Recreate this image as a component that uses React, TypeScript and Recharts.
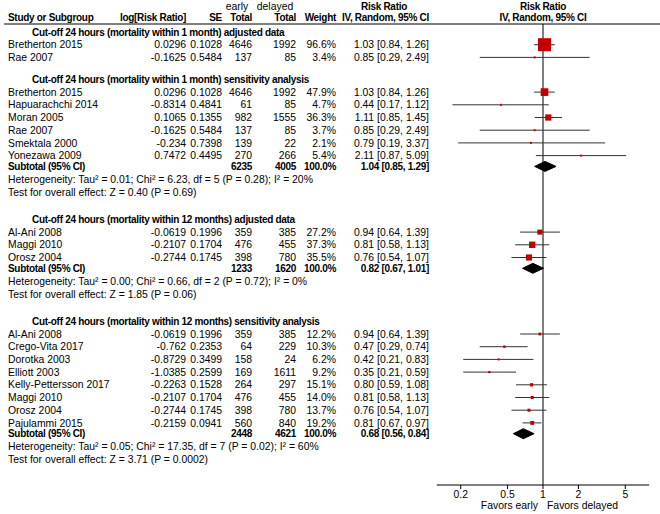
import { Area, ComposedChart, ReferenceLine, Scatter, XAxis, YAxis } from "recharts";

// name, log[RR], SE, early total, delayed total, weight %, RR, CI low, CI high
type Study = [string, number, number, number, number, number, number, number, number];
// early total, delayed total, RR, CI low, CI high
type Subtotal = [number, number, number, number, number];

const groupTitles = [
  "Cut-off 24 hours (mortality within 1 month) adjusted data",
  "Cut-off 24 hours (mortality within 1 month) sensitivity analysis",
  "Cut-off 24 hours (mortality within 12 months) adjusted data",
  "Cut-off 24 hours (mortality within 12 months) sensitivity analysis",
];

const adjusted1m: Study[] = [
  ["Bretherton 2015", 0.0296, 0.1028, 4646, 1992, 96.6, 1.03, 0.84, 1.26],
  ["Rae 2007", -0.1625, 0.5484, 137, 85, 3.4, 0.85, 0.29, 2.49],
];

const sensitivity1m: Study[] = [
  ["Bretherton 2015", 0.0296, 0.1028, 4646, 1992, 47.9, 1.03, 0.84, 1.26],
  ["Hapuarachchi 2014", -0.8314, 0.4841, 61, 85, 4.7, 0.44, 0.17, 1.12],
  ["Moran 2005", 0.1065, 0.1355, 982, 1555, 36.3, 1.11, 0.85, 1.45],
  ["Rae 2007", -0.1625, 0.5484, 137, 85, 3.7, 0.85, 0.29, 2.49],
  ["Smektala 2000", -0.234, 0.7398, 139, 22, 2.1, 0.79, 0.19, 3.37],
  ["Yonezawa 2009", 0.7472, 0.4495, 270, 266, 5.4, 2.11, 0.87, 5.09],
];

const adjusted12m: Study[] = [
  ["Al-Ani 2008", -0.0619, 0.1996, 359, 385, 27.2, 0.94, 0.64, 1.39],
  ["Maggi 2010", -0.2107, 0.1704, 476, 455, 37.3, 0.81, 0.58, 1.13],
  ["Orosz 2004", -0.2744, 0.1745, 398, 780, 35.5, 0.76, 0.54, 1.07],
];

const sensitivity12m: Study[] = [
  ["Al-Ani 2008", -0.0619, 0.1996, 359, 385, 12.2, 0.94, 0.64, 1.39],
  ["Crego-Vita 2017", -0.762, 0.2353, 64, 229, 10.3, 0.47, 0.29, 0.74],
  ["Dorotka 2003", -0.8729, 0.3499, 158, 24, 6.2, 0.42, 0.21, 0.83],
  ["Elliott 2003", -1.0385, 0.2599, 169, 1611, 9.2, 0.35, 0.21, 0.59],
  ["Kelly-Pettersson 2017", -0.2263, 0.1528, 264, 297, 15.1, 0.8, 0.59, 1.08],
  ["Maggi 2010", -0.2107, 0.1704, 476, 455, 14.0, 0.81, 0.58, 1.13],
  ["Orosz 2004", -0.2744, 0.1745, 398, 780, 13.7, 0.76, 0.54, 1.07],
  ["Pajulammi 2015", -0.2159, 0.0941, 560, 840, 19.2, 0.81, 0.67, 0.97],
];

const subtotals: (Subtotal | null)[] = [
  null,
  [6235, 4005, 1.04, 0.85, 1.29],
  [1233, 1620, 0.82, 0.67, 1.01],
  [2448, 4621, 0.68, 0.56, 0.84],
];

const heterogeneity = [
  "",
  "Heterogeneity: Tau\u00b2 = 0.01; Chi\u00b2 = 6.23, df = 5 (P = 0.28); I\u00b2 = 20%",
  "Heterogeneity: Tau\u00b2 = 0.00; Chi\u00b2 = 0.66, df = 2 (P = 0.72); I\u00b2 = 0%",
  "Heterogeneity: Tau\u00b2 = 0.05; Chi\u00b2 = 17.35, df = 7 (P = 0.02); I\u00b2 = 60%",
];

const overallEffect = [
  "",
  "Test for overall effect: Z = 0.40 (P = 0.69)",
  "Test for overall effect: Z = 1.85 (P = 0.06)",
  "Test for overall effect: Z = 3.71 (P = 0.0002)",
];

const rrTicks = [0.2, 0.5, 1, 2, 5];

const groups = [adjusted1m, sensitivity1m, adjusted12m, sensitivity12m];

// ---- layout (pixels) ----
const W = 660;
const H = 514;
const PLOT_TOP = 24;
const PLOT_BOTTOM = 485;
const PLOT_LEFT = 436.7;
const PLOT_RIGHT = 649.3;
const STEP = 12.7;
const FONT = "'Liberation Sans', Arial, sans-serif";
const FS = 10.4;

// left edge of names / right edges of the numeric columns
const COL = { name: 8, title: 32, logrr: 186, se: 222, early: 252, delayed: 296, weight: 336, ci: 429 };

type Row = { x: number; y: number; kind: "title" | "study" | "subtotal" | "note"; cells: string[] };

const rows: Row[] = [];
const boxes: { x: number; y: number; w: number }[] = [];
const cis: { lo: number; hi: number; y: number }[] = [];
const diamonds: { x: number; band: [number, number] }[][] = [];

const fmtCI = (rr: number, lo: number, hi: number) =>
  `${rr.toFixed(2)} [${lo.toFixed(2)}, ${hi.toFixed(2)}]`;

let pos = 8;
groups.forEach((studies, g) => {
  if (g > 0) pos += subtotals[g - 1] ? 27 : 22;
  rows.push({ x: 1, y: pos, kind: "title", cells: [groupTitles[g]] });
  studies.forEach((s) => {
    pos += STEP;
    rows.push({
      x: 1,
      y: pos,
      kind: "study",
      cells: [s[0], String(s[1]), String(s[2]), String(s[3]), String(s[4]), `${s[5].toFixed(1)}%`, fmtCI(s[6], s[7], s[8])],
    });
    boxes.push({ x: s[6], y: pos, w: s[5] });
    cis.push({ lo: s[7], hi: s[8], y: pos });
  });
  const sub = subtotals[g];
  if (sub) {
    pos += 10.8;
    rows.push({
      x: 1,
      y: pos,
      kind: "subtotal",
      cells: ["Subtotal (95% CI)", "", "", String(sub[0]), String(sub[1]), "100.0%", fmtCI(sub[2], sub[3], sub[4])],
    });
    diamonds.push([
      { x: sub[3], band: [pos, pos] },
      { x: sub[2], band: [pos - 5, pos + 5] },
      { x: sub[4], band: [pos, pos] },
    ]);
    pos += 13;
    rows.push({ x: 1, y: pos, kind: "note", cells: [heterogeneity[g]] });
    pos += 13;
    rows.push({ x: 1, y: pos, kind: "note", cells: [overallEffect[g]] });
  }
});

const txt = { fontSize: FS, fill: "#000", fontFamily: FONT };
const bTxt = { fontSize: 10, fill: "#000", fontFamily: FONT, fontWeight: "bold" as const, letterSpacing: -0.3 };

function RowText(props: any) {
  const { cy, payload } = props;
  const r: Row = payload;
  if (r.kind === "title") {
    return (
      <text x={COL.title} y={cy} dy="0.35em" {...bTxt}>
        {r.cells[0]}
      </text>
    );
  }
  if (r.kind === "note") {
    return (
      <text x={COL.name} y={cy} dy="0.35em" {...txt}>
        {r.cells[0]}
      </text>
    );
  }
  const style = r.kind === "subtotal" ? bTxt : txt;
  const rights = [COL.logrr, COL.se, COL.early, COL.delayed, COL.weight, COL.ci];
  return (
    <g>
      <text x={COL.name} y={cy} dy="0.35em" {...style}>
        {r.cells[0]}
      </text>
      {rights.map((rx, i) => (
        <text key={i} x={rx} y={cy} dy="0.35em" textAnchor="end" {...style}>
          {r.cells[i + 1]}
        </text>
      ))}
    </g>
  );
}

function Box(props: any) {
  const { cx, cy, payload } = props;
  const s = Math.max(2, 13 * Math.pow(payload.w / 96.6, 0.75));
  return <rect x={cx - s / 2} y={cy - s / 2} width={s} height={s} fill="#c00000" />;
}

function Header() {
  const b = bTxt;
  return (
    <svg width={W} height={H} style={{ position: "absolute", left: 0, top: 0, pointerEvents: "none" }}>
      <text x={237} y={6} dy="0.35em" textAnchor="middle" {...txt}>early</text>
      <text x={275} y={6} dy="0.35em" textAnchor="middle" {...txt}>delayed</text>
      <text x={384} y={6} dy="0.35em" textAnchor="middle" {...b}>Risk Ratio</text>
      <text x={543} y={6} dy="0.35em" textAnchor="middle" {...b}>Risk Ratio</text>
      <text x={COL.name} y={17} dy="0.35em" {...b}>Study or Subgroup</text>
      <text x={COL.logrr} y={17} dy="0.35em" textAnchor="end" {...b}>log[Risk Ratio]</text>
      <text x={COL.se} y={17} dy="0.35em" textAnchor="end" {...b}>SE</text>
      <text x={COL.early} y={17} dy="0.35em" textAnchor="end" {...b}>Total</text>
      <text x={COL.delayed} y={17} dy="0.35em" textAnchor="end" {...b}>Total</text>
      <text x={COL.weight} y={17} dy="0.35em" textAnchor="end" {...b}>Weight</text>
      <text x={COL.ci} y={17} dy="0.35em" textAnchor="end" {...b}>IV, Random, 95% CI</text>
      <text x={543} y={17} dy="0.35em" textAnchor="middle" {...b}>IV, Random, 95% CI</text>
      <line x1={4} x2={W} y1={PLOT_TOP} y2={PLOT_TOP} stroke="#000" strokeWidth={1} />
      <text x={538} y={505} dy="0.35em" textAnchor="end" {...txt}>Favors early</text>
      <text x={547} y={505} dy="0.35em" {...txt}>Favors delayed</text>
    </svg>
  );
}

export default function App() {
  return (
    <div style={{ position: "absolute", left: 0, top: 0, width: W, height: H, background: "#fff", fontFamily: FONT }}>
      <ComposedChart
        width={W}
        height={H}
        margin={{ top: PLOT_TOP, bottom: 0, left: PLOT_LEFT, right: W - PLOT_RIGHT }}
      >
        <XAxis
          dataKey="x"
          type="number"
          scale="log"
          domain={[0.125, 8]}
          ticks={rrTicks}
          interval={0}
          height={H - PLOT_BOTTOM}
          tickSize={4}
          tickLine={{ stroke: "#000" }}
          axisLine={{ stroke: "#000" }}
          tick={{ fontSize: FS, fill: "#000", fontFamily: FONT }}
        />
        <YAxis dataKey="y" type="number" domain={[0, PLOT_BOTTOM - PLOT_TOP]} reversed hide />
        <ReferenceLine x={1} stroke="#000" strokeWidth={1} />
        {cis.map((c, i) => (
          <ReferenceLine
            key={`ci${i}`}
            segment={[
              { x: c.lo, y: c.y },
              { x: c.hi, y: c.y },
            ]}
            stroke="#333"
            strokeWidth={1}
          />
        ))}
        {diamonds.map((d, i) => (
          <Area
            key={`d${i}`}
            data={d}
            dataKey="band"
            type="linear"
            stroke="#000"
            fill="#000"
            fillOpacity={1}
            dot={false}
            activeDot={false}
            isAnimationActive={false}
          />
        ))}
        <Scatter data={boxes} shape={Box} isAnimationActive={false} />
        <Scatter data={rows} shape={RowText} isAnimationActive={false} />
      </ComposedChart>
      <Header />
    </div>
  );
}
